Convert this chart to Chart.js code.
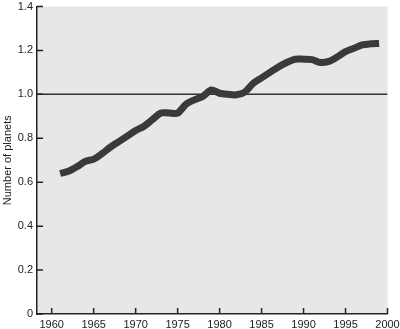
<!DOCTYPE html>
<html>
<head>
<meta charset="utf-8">
<script src="https://cdn.jsdelivr.net/npm/chart.js@4"></script>
<style>
  body { margin: 0; background: #fff; }
</style>
</head>
<body>
<canvas id="planetChart" width="400" height="329"></canvas>
<script>
// data
const years = [1961, 1962, 1963, 1964, 1965, 1966, 1967, 1968, 1969, 1970,
               1971, 1972, 1973, 1974, 1975, 1976, 1977, 1978, 1979, 1980,
               1981, 1982, 1983, 1984, 1985, 1986, 1987, 1988, 1989, 1990,
               1991, 1992, 1993, 1994, 1995, 1996, 1997, 1998, 1999];
const planets = [0.64, 0.65, 0.67, 0.695, 0.705, 0.73, 0.76, 0.785, 0.81, 0.835,
                 0.855, 0.885, 0.915, 0.915, 0.915, 0.955, 0.975, 0.99, 1.02, 1.005,
                 1.0, 0.998, 1.01, 1.05, 1.075, 1.1, 1.125, 1.145, 1.16, 1.16,
                 1.158, 1.145, 1.15, 1.17, 1.195, 1.21, 1.225, 1.23, 1.232];
const refYears = [1958.25, 2000];
const refValue = [1.0, 1.0];
const xTicks = [1960, 1965, 1970, 1975, 1980, 1985, 1990, 1995, 2000];
const yTicks = [0, 0.2, 0.4, 0.6, 0.8, 1.0, 1.2, 1.4];
const yTickLabels = ['0', '0.2', '0.4', '0.6', '0.8', '1.0', '1.2', '1.4'];

Chart.defaults.font.family = "'Liberation Sans', Arial, sans-serif";
Chart.defaults.font.size = 11;
Chart.defaults.color = '#222';

// grey plot background
const plotBackground = {
  id: 'plotBackground',
  beforeDraw(chart) {
    const { ctx, chartArea: a } = chart;
    ctx.save();
    ctx.fillStyle = '#e7e7e7';
    ctx.fillRect(a.left, a.top, a.right - a.left, a.bottom - a.top);
    ctx.restore();
  }
};

// tick marks pointing into the plot
const innerTicks = {
  id: 'innerTicks',
  afterDraw(chart) {
    const { ctx, chartArea: a, scales } = chart;
    ctx.save();
    ctx.strokeStyle = '#222';
    ctx.lineWidth = 1.5;
    ctx.beginPath();
    xTicks.forEach(v => {
      const x = scales.x.getPixelForValue(v);
      ctx.moveTo(x, a.bottom);
      ctx.lineTo(x, a.bottom - 6);
    });
    yTicks.forEach(v => {
      const y = scales.y.getPixelForValue(v);
      ctx.moveTo(a.left, y);
      ctx.lineTo(a.left + 6, y);
    });
    ctx.stroke();
    ctx.restore();
  }
};

new Chart(document.getElementById('planetChart'), {
  type: 'scatter',
  data: {
    datasets: [{
      data: years.map((y, i) => ({ x: y, y: planets[i] })),
      showLine: true,
      borderColor: '#3a3a3a',
      borderWidth: 7,
      borderCapStyle: 'butt',
      borderJoinStyle: 'round',
      tension: 0.3,
      pointRadius: 0,
      order: 1
    }, {
      data: refYears.map((y, i) => ({ x: y, y: refValue[i] })),
      showLine: true,
      borderColor: '#333',
      borderWidth: 1.5,
      pointRadius: 0,
      order: 2
    }]
  },
  options: {
    responsive: false,
    animation: false,
    layout: { padding: { top: 6.5, right: 12.5, left: 0, bottom: 0 } },
    plugins: { legend: { display: false }, tooltip: { enabled: false } },
    scales: {
      x: {
        type: 'linear',
        min: 1958.25,
        max: 2000,
        grid: { display: false, drawTicks: false },
        border: { color: '#222', width: 1.5 },
        afterBuildTicks: s => { s.ticks = xTicks.map(v => ({ value: v })); },
        afterFit: s => {
          s.height = 15;
          s.paddingLeft = 0;
          s.paddingRight = 0;
        },
        ticks: { padding: 4, maxRotation: 0, autoSkip: false, callback: v => String(v) }
      },
      y: {
        min: 0,
        max: 1.4,
        grid: { display: false, drawTicks: false },
        border: { color: '#222', width: 1.5 },
        afterBuildTicks: s => { s.ticks = yTicks.map(v => ({ value: v })); },
        afterFit: s => {
          s.width = 37;
          s.paddingTop = 0;
          s.paddingBottom = 0;
        },
        ticks: {
          padding: 4,
          autoSkip: false,
          callback: v => yTickLabels[yTicks.indexOf(v)]
        },
        title: {
          display: true,
          text: 'Number of planets',
          padding: { top: 1, bottom: 0 },
          font: { size: 11 }
        }
      }
    }
  },
  plugins: [plotBackground, innerTicks]
});
</script>
</body>
</html>
